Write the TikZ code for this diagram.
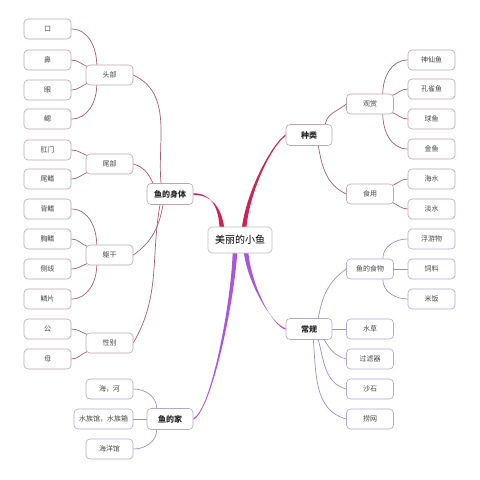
\documentclass[tikz,border=0pt]{standalone}
\usepackage{fontspec}
\setmainfont{Noto Sans CJK SC}
\usetikzlibrary{calc,backgrounds}
\definecolor{redline}{RGB}{205,35,85}
\definecolor{purline}{RGB}{170,85,225}
\definecolor{mauve}{RGB}{165,95,115}
\definecolor{lilac}{RGB}{165,140,205}
\definecolor{bdr}{RGB}{190,165,175}
\definecolor{bdp}{RGB}{180,168,205}
\definecolor{txt}{RGB}{70,70,70}
\tikzset{
  box/.style={draw=bdr, fill=white, rounded corners=4pt, line width=0.6pt, minimum height=20pt, inner sep=0pt, align=center, font=\fontsize{7}{8}\selectfont, text=txt},
  leaf/.style={box, minimum width=47pt},
  mid/.style={box, minimum width=47pt},
  big/.style={box, minimum width=46pt, minimum height=21pt, font=\fontsize{8}{9}\selectfont\bfseries, text=black!85},
  pbox/.style={draw=bdp},
  root/.style={box, draw=black!25, minimum width=64pt, minimum height=26pt, font=\fontsize{10}{11}\selectfont, text=black},
  rl/.style={mauve, line width=0.7pt},
  pl/.style={lilac, line width=0.7pt}
}
% tapered branch: #1 colour, #2 start, #3 ctrl1, #4 ctrl2, #5 end
\newcommand\mytaper[5]{%
  \fill[#1] ($#2+(-2.3,0)$) .. controls ($#3+(-1.6,0)$) and ($#4+(0,-0.8)$) .. ($#5+(0,-0.75)$)
    -- ($#5+(0,0.75)$) .. controls ($#4+(0,0.8)$) and ($#3+(1.6,0)$) .. ($#2+(2.3,0)$) -- cycle;}
\begin{document}
\begin{tikzpicture}[x=1pt,y=-1pt]
\useasboundingbox (0,0) rectangle (480,480);

\node[root] (r) at (240,240) {美丽的小鱼};
\node[big] (body) at (170,194) {鱼的身体};
\node[big,pbox] (home) at (170,419) {鱼的家};
\node[big] (kind) at (309,135) {种类};
\node[big,pbox] (norm) at (309,329) {常规};

\node[mid] (head) at (109.5,75) {头部};
\node[mid] (tail) at (109.5,164) {尾部};
\node[mid] (trunk) at (109.5,255) {躯干};
\node[mid] (sex) at (109.5,343) {性别};

\node[leaf] (l1) at (47.5,29) {口};
\node[leaf] (l2) at (47.5,60) {鼻};
\node[leaf] (l3) at (47.5,90) {眼};
\node[leaf] (l4) at (47.5,119) {鳃};
\node[leaf] (l5) at (47.5,150) {肛门};
\node[leaf] (l6) at (47.5,179) {尾鳍};
\node[leaf] (l7) at (47.5,209) {背鳍};
\node[leaf] (l8) at (47.5,239) {胸鳍};
\node[leaf] (l9) at (47.5,269) {侧线};
\node[leaf] (l10) at (47.5,299) {鳞片};
\node[leaf] (l11) at (47.5,329) {公};
\node[leaf] (l12) at (47.5,359) {母};

\node[leaf,pbox] (h1) at (109.5,389) {海，河};
\node[leaf,pbox,minimum width=59pt] (h2) at (103.5,419) {水族馆，水族箱};
\node[leaf,pbox] (h3) at (109.5,449) {海洋馆};

\node[mid] (orn) at (370,104) {观赏};
\node[mid] (eat) at (370,194) {食用};
\node[mid,pbox] (food) at (370,269) {鱼的食物};
\node[mid,pbox] (n1) at (370,329) {水草};
\node[mid,pbox] (n2) at (370,359) {过滤器};
\node[mid,pbox] (n3) at (370,389) {沙石};
\node[mid,pbox] (n4) at (370,419) {捞网};

\node[leaf] (o1) at (431.5,60) {神仙鱼};
\node[leaf] (o2) at (431.5,89) {孔雀鱼};
\node[leaf] (o3) at (431.5,119) {球鱼};
\node[leaf] (o4) at (431.5,149) {金鱼};
\node[leaf] (e1) at (431.5,179) {海水};
\node[leaf] (e2) at (431.5,209) {淡水};
\node[leaf,pbox] (f1) at (431.5,239) {浮游物};
\node[leaf,pbox] (f2) at (431.5,269) {饲料};
\node[leaf,pbox] (f3) at (431.5,299) {米饭};

% start points on the root
\coordinate (rb) at ($(r.north)+(-18,2)$);
\coordinate (rk) at ($(r.north)+(4,2)$);
\coordinate (rn) at ($(r.south)+(6,-2)$);
\coordinate (rh) at ($(r.south)+(-5,-2)$);

\begin{scope}[on background layer]
\fill[white] (0,0) rectangle (480,480);
% main branches (tapered)
\mytaper{redline}{(rb)}{($(rb)+(-2,-22)$)}{($(body.east)+(18,0)$)}{(body.east)}
\mytaper{redline}{(rk)}{($(rk)+(4,-38)$)}{($(kind.west)+(-14,10)$)}{(kind.west)}
\mytaper{purline}{(rn)}{($(rn)+(3,32)$)}{($(norm.west)+(-14,-4)$)}{(norm.west)}
\mytaper{purline}{(rh)}{($(rh)+(-2,50)$)}{($(home.east)+(18,-8)$)}{(home.east)}

% body branches
\draw[rl] ($(body.north)+(-9,0)$) to[out=95,in=-25] (head.east);
\draw[rl] ($(body.north)+(-17,0)$) to[out=115,in=-15] (tail.east);
\draw[rl] ($(body.south)+(-7,0)$) to[out=-100,in=35] (trunk.east);
\draw[rl] ($(body.south)+(-10,0)$) to[out=-100,in=60] (sex.east);

\draw[rl] (l1.east) to[out=0,in=90] ($(head.north west)+(11,0)$);
\draw[rl] (l2.east) to[out=0,in=160] ($(head.north west)+(2,2)$);
\draw[rl] (l3.east) to[out=0,in=-160] ($(head.south west)+(2,-2)$);
\draw[rl] (l4.east) to[out=0,in=-90] ($(head.south west)+(11,0)$);
\draw[rl] (l5.east) to[out=0,in=160] ($(tail.north west)+(2,2)$);
\draw[rl] (l6.east) to[out=0,in=-160] ($(tail.south west)+(2,-2)$);
\draw[rl] (l7.east) to[out=0,in=90] ($(trunk.north west)+(11,0)$);
\draw[rl] (l8.east) to[out=0,in=160] ($(trunk.north west)+(2,2)$);
\draw[rl] (l9.east) to[out=0,in=-160] ($(trunk.south west)+(2,-2)$);
\draw[rl] (l10.east) to[out=0,in=-90] ($(trunk.south west)+(11,0)$);
\draw[rl] (l11.east) to[out=0,in=160] ($(sex.north west)+(2,2)$);
\draw[rl] (l12.east) to[out=0,in=-160] ($(sex.south west)+(2,-2)$);

\draw[pl] (h1.east) to[out=0,in=90] ($(home.north west)+(10,0)$);
\draw[pl] (h2.east) -- (home.west);
\draw[pl] (h3.east) to[out=0,in=-90] ($(home.south west)+(10,0)$);

% kind branches
\draw[rl] ($(kind.north east)+(-7,0)$) to[out=80,in=-140] (orn.west);
\draw[rl] ($(kind.south east)+(-14,0)$) to[out=-80,in=155] (eat.west);
\draw[rl] ($(orn.north east)+(-11,0)$) to[out=90,in=180] (o1.west);
\draw[rl] ($(orn.north east)+(-2,2)$) to[out=20,in=180] (o2.west);
\draw[rl] ($(orn.south east)+(-2,-2)$) to[out=-20,in=180] (o3.west);
\draw[rl] ($(orn.south east)+(-11,0)$) to[out=-90,in=180] (o4.west);
\draw[rl] ($(eat.north east)+(-2,2)$) to[out=20,in=180] (e1.west);
\draw[rl] ($(eat.south east)+(-2,-2)$) to[out=-20,in=180] (e2.west);

% norm branches
\draw[pl] ($(norm.north east)+(-14,0)$) to[out=80,in=-145] (food.west);
\draw[pl] (norm.east) -- (n1.west);
\draw[pl] ($(norm.south east)+(-8,0)$) to[out=-60,in=165] (n2.west);
\draw[pl] ($(norm.south east)+(-14,0)$) to[out=-75,in=165] (n3.west);
\draw[pl] ($(norm.south east)+(-19,0)$) to[out=-85,in=165] (n4.west);
\draw[pl] ($(food.north east)+(-11,0)$) to[out=90,in=180] (f1.west);
\draw[pl] (food.east) -- (f2.west);
\draw[pl] ($(food.south east)+(-11,0)$) to[out=-90,in=180] (f3.west);
\end{scope}
\end{tikzpicture}
\end{document}
